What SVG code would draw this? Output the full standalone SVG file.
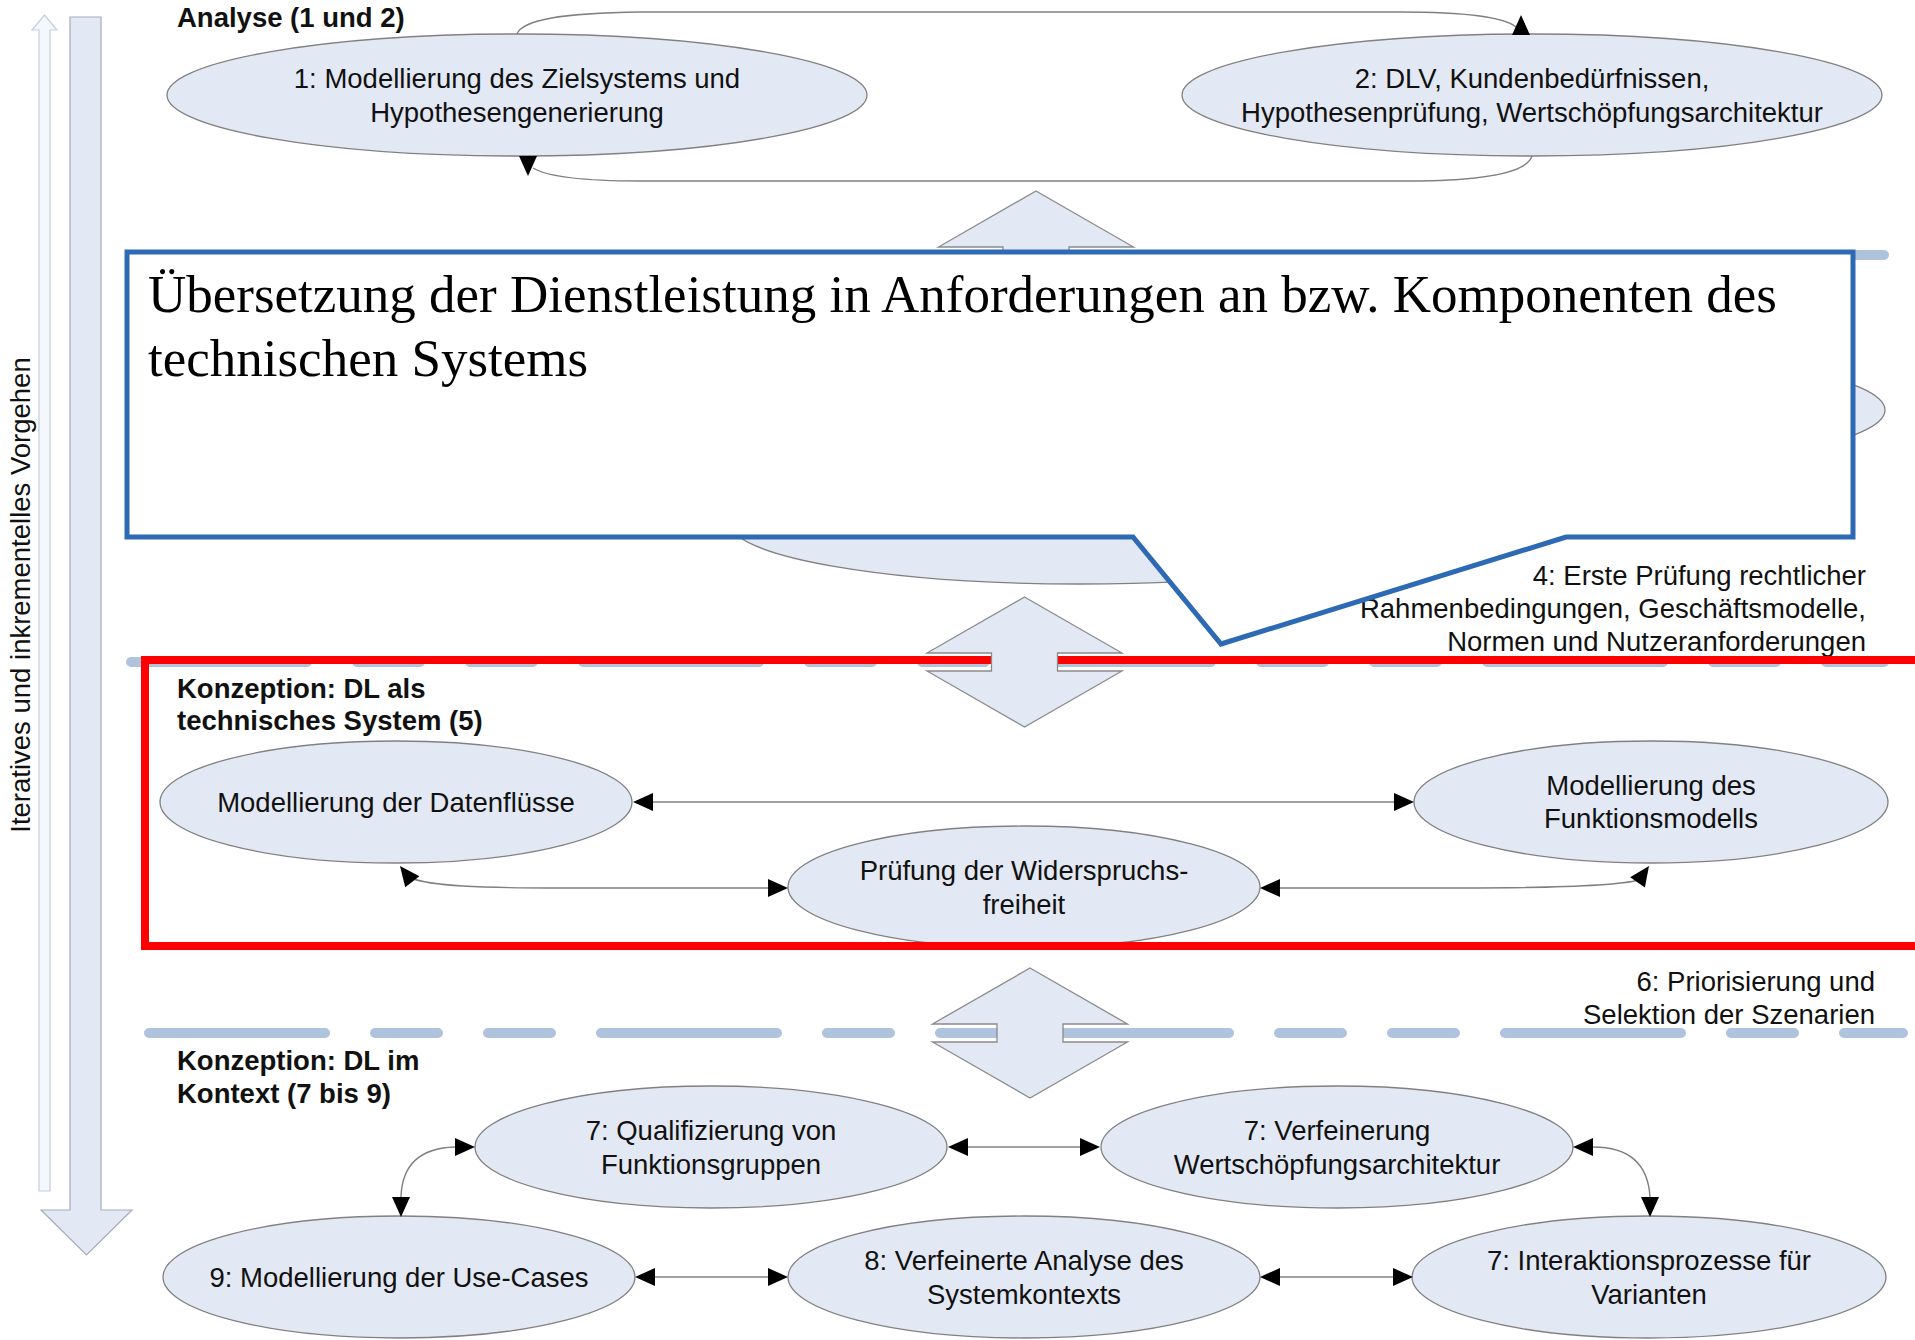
<svg xmlns="http://www.w3.org/2000/svg" xmlns:xlink="http://www.w3.org/1999/xlink" width="1915" height="1340" viewBox="0 0 1915 1340">
  <style>
    .node ellipse { fill: #e3e9f4; stroke: #808080; stroke-width: 1.3; }
    .node text, .lbl { font-family: "Liberation Sans", Arial, sans-serif; font-size: 27.5px; fill: #111; }
    .node text { text-anchor: middle; }
    .bold { font-weight: bold; }
    .right { text-anchor: end; }
    .sep { fill: none; stroke: #b0c3dc; stroke-width: 10; stroke-linecap: round; stroke-dasharray: 176 50 63 50 63 50; }
    .conn path { fill: none; stroke: #808080; stroke-width: 1.4; }
    .conn use { fill: #000; }
    .updown { fill: #e3e9f4; stroke: #8a8a8a; stroke-width: 1.3; }
  </style>
  <defs>
    <!-- arrowhead, tip at origin pointing along +x -->
    <path id="ah" d="M0,0 L-20,-9 L-20,9 Z"/>
    <!-- up/down double arrow with a short notched shaft, centred at origin of its waist -->
    <path id="ud" d="M0,-65 L97.5,-9 L33,-9 L33,9 L97.5,9 L0,65 L-97.5,9 L-33,9 L-33,-9 L-97.5,-9 Z"/>
  </defs>

  <rect width="1915" height="1340" fill="#fff"/>

  <!-- process direction arrows on the left -->
  <g id="iter-arrow">
    <path d="M39,30 L32,30 L44.5,15 L57,30 L50,30 L50,1191 L39,1191 Z" fill="#f4f7fb" stroke="#c5cedb" stroke-width="1.2"/>
    <path d="M70,17 L101,17 L101,1210 L132,1210 L86.5,1255 L41,1210 L70,1210 Z" fill="#e3e9f4" stroke="#a3acbb" stroke-width="1.2"/>
    <text class="lbl" transform="translate(30,595) rotate(-90)" text-anchor="middle">Iteratives und inkrementelles Vorgehen</text>
  </g>

  <!-- phase separators -->
  <g id="separators">
    <path class="sep" d="M131,255 L1884,255"/>
    <path class="sep" d="M131,662 L1884,662"/>
    <path class="sep" d="M149,1033 L1903,1033"/>
  </g>

  <!-- phase titles and step labels -->
  <g id="labels">
    <text class="lbl bold" x="177" y="27">Analyse (1 und 2)</text>
    <text class="lbl bold" x="177" y="698">Konzeption: DL als</text>
    <text class="lbl bold" x="177" y="730">technisches System (5)</text>
    <text class="lbl bold" x="177" y="1070">Konzeption: DL im</text>
    <text class="lbl bold" x="177" y="1103">Kontext (7 bis 9)</text>
    <text class="lbl right" x="1866" y="585">4: Erste Prüfung rechtlicher</text>
    <text class="lbl right" x="1866" y="618">Rahmenbedingungen, Geschäftsmodelle,</text>
    <text class="lbl right" x="1866" y="651">Normen und Nutzeranforderungen</text>
    <text class="lbl right" x="1875" y="991">6: Priorisierung und</text>
    <text class="lbl right" x="1875" y="1024">Selektion der Szenarien</text>
  </g>

  <!-- Analyse -->
  <g id="n1" class="node">
    <ellipse cx="517" cy="95" rx="350" ry="61"/>
    <text x="517" y="88">1: Modellierung des Zielsystems und</text>
    <text x="517" y="122">Hypothesengenerierung</text>
  </g>
  <g id="n2" class="node">
    <ellipse cx="1532" cy="95" rx="350" ry="61"/>
    <text x="1532" y="88">2: DLV, Kundenbedürfnissen,</text>
    <text x="1532" y="122">Hypothesenprüfung, Wertschöpfungsarchitektur</text>
  </g>
  <g id="n3a" class="node">
    <ellipse cx="1535" cy="410" rx="350" ry="61"/>
  </g>
  <g id="n3b" class="node">
    <ellipse cx="1080" cy="523" rx="350" ry="61"/>
  </g>

  <!-- Konzeption: DL als technisches System -->
  <g id="n5-daten" class="node">
    <ellipse cx="396" cy="802" rx="236" ry="61"/>
    <text x="396" y="812">Modellierung der Datenflüsse</text>
  </g>
  <g id="n5-funktion" class="node">
    <ellipse cx="1651" cy="802" rx="237" ry="61"/>
    <text x="1651" y="795">Modellierung des</text>
    <text x="1651" y="828">Funktionsmodells</text>
  </g>
  <g id="n5-pruefung" class="node">
    <ellipse cx="1024" cy="887" rx="236" ry="61"/>
    <text x="1024" y="880">Prüfung der Widerspruchs-</text>
    <text x="1024" y="914">freiheit</text>
  </g>

  <!-- Konzeption: DL im Kontext -->
  <g id="n7-qual" class="node">
    <ellipse cx="711" cy="1147" rx="236" ry="61"/>
    <text x="711" y="1140">7: Qualifizierung von</text>
    <text x="711" y="1174">Funktionsgruppen</text>
  </g>
  <g id="n7-wert" class="node">
    <ellipse cx="1337" cy="1147" rx="236" ry="61"/>
    <text x="1337" y="1140">7: Verfeinerung</text>
    <text x="1337" y="1174">Wertschöpfungsarchitektur</text>
  </g>
  <g id="n9" class="node">
    <ellipse cx="399" cy="1277" rx="236" ry="61"/>
    <text x="399" y="1287">9: Modellierung der Use-Cases</text>
  </g>
  <g id="n8" class="node">
    <ellipse cx="1024" cy="1277" rx="236" ry="61"/>
    <text x="1024" y="1270">8: Verfeinerte Analyse des</text>
    <text x="1024" y="1304">Systemkontexts</text>
  </g>
  <g id="n7-inter" class="node">
    <ellipse cx="1649" cy="1277" rx="237" ry="61"/>
    <text x="1649" y="1270">7: Interaktionsprozesse für</text>
    <text x="1649" y="1304">Varianten</text>
  </g>

  <!-- connectors -->
  <g id="connectors" class="conn">
    <path d="M517,34 C522,20 560,13 640,12 L1400,12 C1470,12 1505,18 1516,27"/>
    <use xlink:href="#ah" transform="translate(1521,15) rotate(-90)"/>
    <path d="M1532,156 C1527,172 1490,180 1420,181 L640,181 C585,181 548,177 533,168"/>
    <use xlink:href="#ah" transform="translate(528,176) rotate(90)"/>

    <path d="M653,802 L1394,802"/>
    <use xlink:href="#ah" transform="translate(633,802) rotate(180)"/>
    <use xlink:href="#ah" transform="translate(1414,802)"/>
    <path d="M411,878 C430,886 480,888 560,888 L768,888"/>
    <use xlink:href="#ah" transform="translate(400,866) rotate(-128)"/>
    <use xlink:href="#ah" transform="translate(788,888)"/>
    <path d="M1280,888 L1460,888 C1560,888 1620,885 1639,880"/>
    <use xlink:href="#ah" transform="translate(1260,888) rotate(180)"/>
    <use xlink:href="#ah" transform="translate(1649,866) rotate(-55)"/>

    <path d="M968,1147 L1080,1147"/>
    <use xlink:href="#ah" transform="translate(948,1147) rotate(180)"/>
    <use xlink:href="#ah" transform="translate(1100,1147)"/>
    <path d="M655,1277 L768,1277"/>
    <use xlink:href="#ah" transform="translate(635,1277) rotate(180)"/>
    <use xlink:href="#ah" transform="translate(788,1277)"/>
    <path d="M1280,1277 L1393,1277"/>
    <use xlink:href="#ah" transform="translate(1260,1277) rotate(180)"/>
    <use xlink:href="#ah" transform="translate(1413,1277)"/>
    <path d="M455,1147 C420,1148 402,1165 401,1197"/>
    <use xlink:href="#ah" transform="translate(475,1147)"/>
    <use xlink:href="#ah" transform="translate(401,1217) rotate(90)"/>
    <path d="M1593,1147 C1628,1147 1648,1163 1650,1197"/>
    <use xlink:href="#ah" transform="translate(1573,1147) rotate(180)"/>
    <use xlink:href="#ah" transform="translate(1650,1217) rotate(90)"/>
  </g>

  <!-- highlight frame around the technical-system phase -->
  <rect id="focus-frame" x="145" y="660" width="1800" height="286" fill="none" stroke="#ff0000" stroke-width="8"/>

  <!-- phase transitions -->
  <g id="trans-1"><use class="updown" xlink:href="#ud" x="1036" y="256"/></g>
  <g id="trans-2"><use class="updown" xlink:href="#ud" x="1024.5" y="662"/></g>
  <g id="trans-3"><use class="updown" xlink:href="#ud" x="1030" y="1033"/></g>

  <!-- callout -->
  <g id="callout">
    <path d="M127,252 L1853,252 L1853,537 L1566,537 L1221,644 L1133,537 L127,537 Z" fill="#fff" stroke="#2e6ab4" stroke-width="5" stroke-linejoin="miter"/>
    <text x="148" y="312" font-family="'Liberation Serif', 'Times New Roman', serif" font-size="53" fill="#000">Übersetzung der Dienstleistung in Anforderungen an bzw. Komponenten des</text>
    <text x="148" y="376" font-family="'Liberation Serif', 'Times New Roman', serif" font-size="53" fill="#000">technischen Systems</text>
  </g>
</svg>
